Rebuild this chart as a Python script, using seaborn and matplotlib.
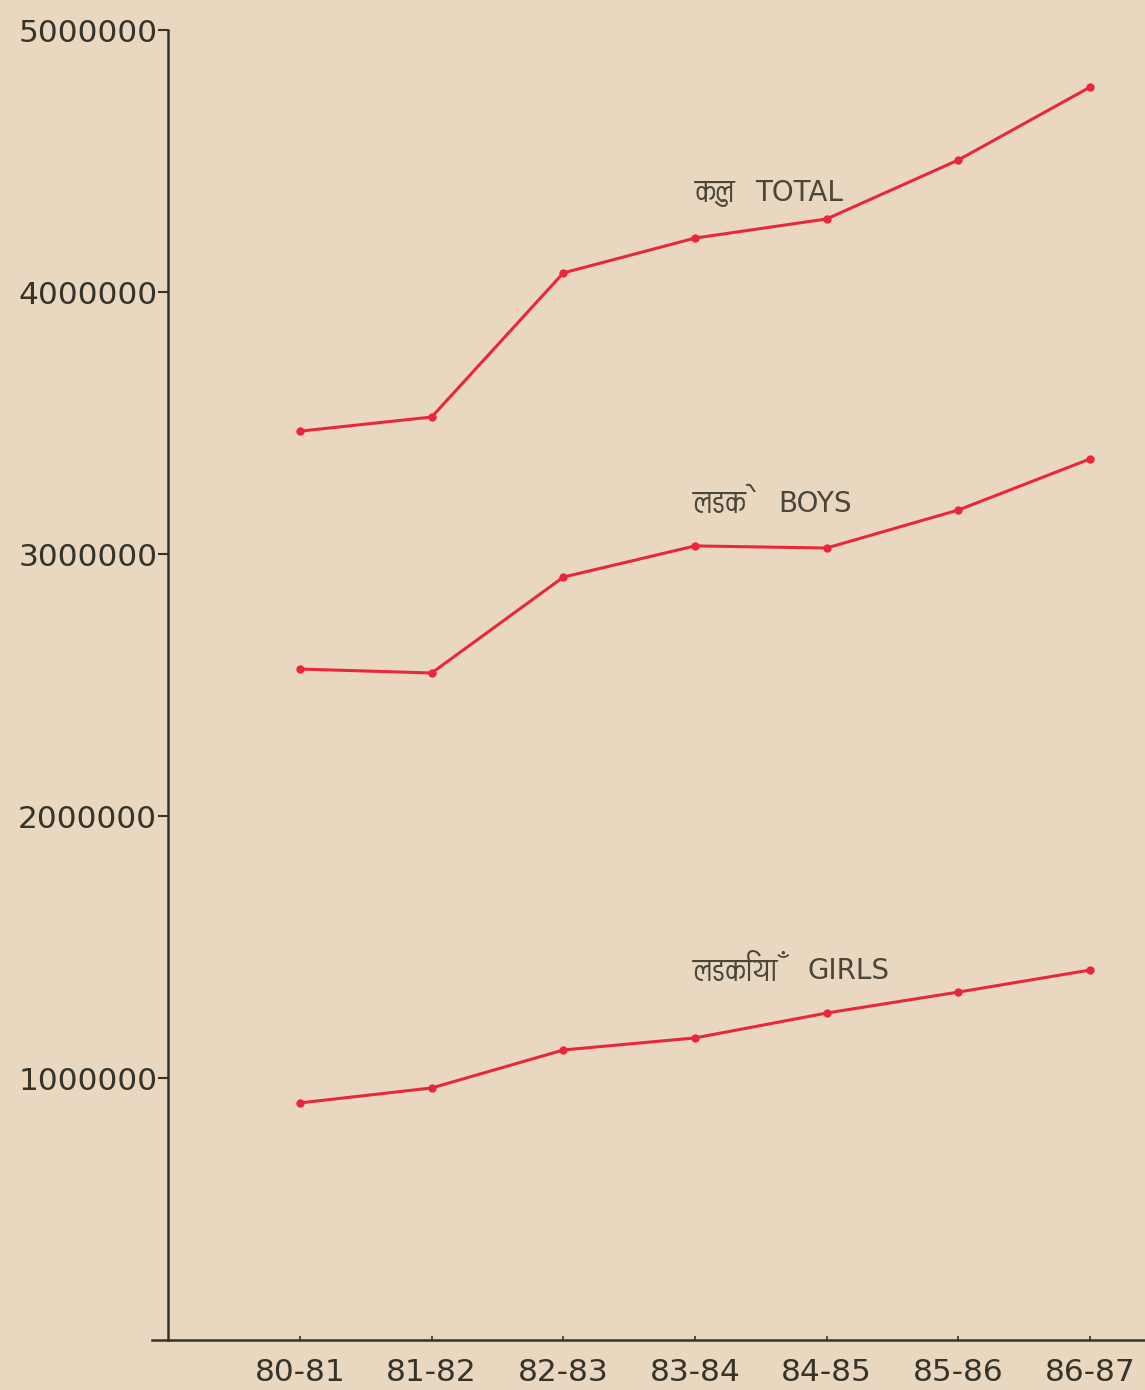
import pandas as pd
import matplotlib
matplotlib.use('Agg')
import matplotlib.pyplot as plt
import seaborn as sns
from matplotlib import font_manager
from matplotlib.ft2font import FT2Font

# Data
years = ['80-81', '81-82', '82-83', '83-84', '84-85', '85-86', '86-87']
total = [3469000, 3523000, 4073000, 4206000, 4279000, 4504000, 4782000]
boys = [2561000, 2546000, 2912000, 3031000, 3023000, 3168000, 3363000]
girls = [905000, 962000, 1107000, 1153000, 1248000, 1328000, 1412000]
hindi_names = ['कुल', 'लडके', 'लडकियाँ']
english_names = ['TOTAL', 'BOYS', 'GIRLS']
y_ticks = [1000000, 2000000, 3000000, 4000000, 5000000]


def find_devanagari_font():
    # prefer a proportional sans face that has Devanagari glyphs
    found = []
    for f in font_manager.fontManager.ttflist:
        try:
            if 0x0915 in FT2Font(f.fname).get_charmap():
                found.append(f.name)
        except Exception:
            pass
    if not found:
        return None
    found.sort(key=lambda n: ('Mono' in n, 'Serif' in n, n))
    return found[0]


def build_frame():
    rows = []
    for name, vals in zip(english_names, [total, boys, girls]):
        for i, v in enumerate(vals):
            rows.append({'pos': i, 'value': v, 'series': name})
    return pd.DataFrame(rows)


if __name__ == '__main__':
    sns.set_style('ticks')
    bg = '#EAD7BF'
    ink = '#35342b'
    red = '#E8283A'
    text_col = '#4a473a'

    deva = find_devanagari_font()
    hindi_family = [deva, 'DejaVu Sans'] if deva else ['DejaVu Sans']

    df = build_frame()

    fig = plt.figure(figsize=(11.45, 13.9), dpi=100)
    fig.patch.set_facecolor(bg)
    ax = fig.add_axes([0.1328, 0.03597, 0.8672, 0.9424])
    ax.set_facecolor(bg)

    sns.lineplot(data=df, x='pos', y='value', hue='series',
                 palette=[red, red, red], linewidth=2.2, marker='o',
                 markersize=6, markeredgewidth=0, legend=False, ax=ax)

    ax.set_xlim(-1.124, 6.418)
    ax.set_ylim(0, 5000000)
    ax.spines['left'].set_position(('data', -1.0))
    ax.spines['left'].set_bounds(0, 5000000)
    for s in ['top', 'right']:
        ax.spines[s].set_visible(False)
    for s in ['left', 'bottom']:
        ax.spines[s].set_color(ink)
        ax.spines[s].set_linewidth(1.8)

    ax.set_xticks(range(len(years)))
    ax.set_xticklabels(years)
    ax.set_yticks(y_ticks)
    ax.set_yticklabels([str(v) for v in y_ticks])
    ax.tick_params(axis='y', direction='out', length=7, width=1.5,
                   pad=1, labelsize=22.5, colors=ink)
    ax.tick_params(axis='x', direction='in', length=3, width=1.2,
                   pad=13, labelsize=22.5, colors=ink)
    ax.set_xlabel('')
    ax.set_ylabel('')

    # Series labels: Hindi word then English word
    hindi_x = [3.0, 2.985, 2.985]
    english_x = [3.456, 3.630, 3.858]
    label_y = [4378000, 3190000, 1408000]
    for hi, en, hx, ex, y in zip(hindi_names, english_names, hindi_x, english_x, label_y):
        ax.text(hx, y, hi, ha='left', va='center', fontsize=24,
                color=text_col, family=hindi_family)
        ax.text(ex, y, en, ha='left', va='center', fontsize=20,
                color=text_col, family='DejaVu Sans')

    fig.savefig('out.png', dpi=100, facecolor=bg)
